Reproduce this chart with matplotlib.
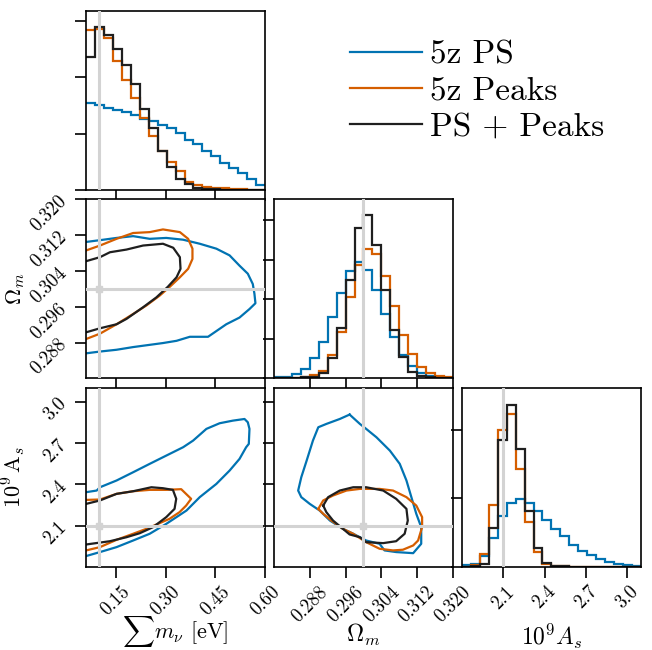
import numpy as np
import matplotlib
matplotlib.use('Agg')
import matplotlib.pyplot as plt

plt.rcParams['font.family'] = 'serif'
plt.rcParams['font.serif'] = ['cmr10', 'DejaVu Serif']
plt.rcParams['mathtext.fontset'] = 'cm'
plt.rcParams['axes.unicode_minus'] = False
plt.rcParams['axes.linewidth'] = 1.2

# 색상과 라벨
colors = ['#0173b2', '#d55e00', '#1f1f1f']
names = ['5z PS', '5z Peaks', 'PS + Peaks']
truth_color = '#d3d3d3'

# 참값 (fiducial)
truth_mnu = 0.10
truth_om = 0.30
truth_as = 2.1

# 축 범위와 눈금
lim_mnu = (0.06, 0.60)
lim_om = (0.280, 0.320)
lim_as = (1.80, 3.10)
ticks_mnu = [0.15, 0.30, 0.45, 0.60]
ticks_om = [0.288, 0.296, 0.304, 0.312, 0.320]
ticks_as = [2.1, 2.4, 2.7, 3.0]
ticklabels_mnu = ['0.15', '0.30', '0.45', '0.60']
ticklabels_om = ['0.288', '0.296', '0.304', '0.312', '0.320']
ticklabels_as = ['2.1', '2.4', '2.7', '3.0']

# 1D 히스토그램 (20 bins)
edges_mnu = np.linspace(0.06, 0.60, 21)
hist_mnu_ps = [1.544, 1.509, 1.456, 1.426, 1.379, 1.337, 1.266, 1.219, 1.160, 1.101,
               1.012, 0.893, 0.817, 0.686, 0.598, 0.479, 0.391, 0.302, 0.201, 0.095]
hist_mnu_pk = [2.846, 2.858, 2.698, 2.296, 1.959, 1.627, 1.278, 0.953, 0.698, 0.497,
               0.343, 0.136, 0.095, 0.059, 0.041, 0.030, 0.024, 0.010, 0.005, 0.0]
hist_mnu_co = [2.355, 2.905, 2.763, 2.509, 2.225, 1.882, 1.444, 1.095, 0.698, 0.402,
               0.201, 0.107, 0.036, 0.018, 0.010, 0.005, 0.005, 0.0, 0.0, 0.0]

edges_om = np.linspace(0.280, 0.320, 21)
hist_om_ps = [0.025, 0.040, 0.110, 0.237, 0.516, 0.930, 1.548, 2.165, 2.715, 2.943,
              2.748, 2.224, 1.615, 1.040, 0.600, 0.304, 0.135, 0.051, 0.017, 0.008]
hist_om_pk = [0.0, 0.008, 0.017, 0.040, 0.085, 0.195, 0.592, 1.167, 2.055, 2.875,
              3.281, 3.154, 2.579, 1.818, 1.108, 0.617, 0.296, 0.127, 0.059, 0.025]
hist_om_co = [0.0, 0.008, 0.017, 0.025, 0.042, 0.127, 0.507, 1.285, 2.478, 3.789,
              4.127, 3.357, 2.224, 1.235, 0.533, 0.169, 0.068, 0.025, 0.008, 0.0]

edges_as = np.linspace(1.80, 3.10, 21)
hist_as_ps = [0.024, 0.040, 0.155, 0.422, 0.738, 0.932, 0.995, 0.932, 0.811, 0.689,
              0.558, 0.447, 0.325, 0.228, 0.165, 0.107, 0.073, 0.044, 0.024, 0.015]
hist_as_pk = [0.0, 0.024, 0.189, 0.898, 2.000, 2.228, 1.432, 0.655, 0.214, 0.044,
              0.010, 0.005, 0.0, 0.0, 0.0, 0.0, 0.0, 0.0, 0.0, 0.0]
hist_as_co = [0.0, 0.010, 0.044, 0.568, 1.854, 2.364, 1.718, 0.811, 0.277, 0.058,
              0.015, 0.005, 0.0, 0.0, 0.0, 0.0, 0.0, 0.0, 0.0, 0.0]

# 2D 등고선 (mnu, Om)
c_mo_ps_x = [0.05, 0.06, 0.102, 0.152, 0.202, 0.252, 0.302, 0.353, 0.403, 0.453, 0.493, 0.523,
             0.548, 0.563, 0.568, 0.571, 0.553, 0.523, 0.483, 0.428, 0.373, 0.333, 0.292,
             0.252, 0.202, 0.152, 0.102, 0.06, 0.05]
c_mo_ps_y = [0.3106, 0.3105, 0.3109, 0.3114, 0.3118, 0.3112, 0.3114, 0.3110, 0.3101, 0.3090,
             0.3075, 0.3052, 0.3034, 0.3011, 0.2989, 0.2968, 0.2955, 0.2936, 0.2921, 0.2893,
             0.2893, 0.2884, 0.2879, 0.2875, 0.2870, 0.2864, 0.2860, 0.2856, 0.2855]
c_mo_pk_x = [0.05, 0.06, 0.102, 0.152, 0.202, 0.252, 0.292, 0.343, 0.368, 0.381, 0.381, 0.368,
             0.343, 0.313, 0.282, 0.242, 0.202, 0.152, 0.102, 0.06, 0.05]
c_mo_pk_y = [0.3080, 0.3086, 0.3097, 0.3112, 0.3125, 0.3127, 0.3133, 0.3127, 0.3112, 0.3090,
             0.3067, 0.3045, 0.3026, 0.3005, 0.2985, 0.2963, 0.2944, 0.2921, 0.2900, 0.2888,
             0.2884]
c_mo_co_x = [0.05, 0.06, 0.102, 0.132, 0.182, 0.232, 0.292, 0.323, 0.343, 0.345, 0.333, 0.307,
             0.272, 0.232, 0.182, 0.152, 0.102, 0.06, 0.05]
c_mo_co_y = [0.3058, 0.3062, 0.3071, 0.3082, 0.3088, 0.3097, 0.3101, 0.3092, 0.3071, 0.3045,
             0.3026, 0.3005, 0.2981, 0.2959, 0.2933, 0.2921, 0.2912, 0.2903, 0.2900]

# 2D 등고선 (mnu, As)
c_ma_ps_x = [0.05, 0.06, 0.092, 0.102, 0.152, 0.202, 0.252, 0.302, 0.353, 0.383, 0.423, 0.463,
             0.503, 0.538, 0.548, 0.553, 0.551, 0.543, 0.523, 0.493, 0.453, 0.403, 0.363,
             0.302, 0.252, 0.202, 0.152, 0.102, 0.06, 0.05]
c_ma_ps_y = [2.340, 2.342, 2.354, 2.378, 2.427, 2.487, 2.548, 2.608, 2.669, 2.717, 2.802, 2.843,
             2.862, 2.874, 2.850, 2.802, 2.693, 2.669, 2.584, 2.499, 2.402, 2.306, 2.209,
             2.112, 2.040, 1.991, 1.943, 1.907, 1.878, 1.872]
c_ma_pk_x = [0.05, 0.06, 0.102, 0.152, 0.202, 0.252, 0.302, 0.347, 0.377, 0.362, 0.342, 0.312,
             0.282, 0.242, 0.202, 0.152, 0.102, 0.06, 0.05]
c_ma_pk_y = [2.285, 2.286, 2.289, 2.330, 2.349, 2.359, 2.359, 2.364, 2.294, 2.245, 2.197, 2.149,
             2.117, 2.076, 2.040, 1.996, 1.943, 1.919, 1.915]
c_ma_co_x = [0.05, 0.06, 0.102, 0.152, 0.202, 0.257, 0.292, 0.322, 0.332, 0.327, 0.302, 0.262,
             0.222, 0.182, 0.132, 0.06, 0.05]
c_ma_co_y = [2.255, 2.257, 2.282, 2.330, 2.349, 2.378, 2.371, 2.359, 2.294, 2.221, 2.161, 2.088,
             2.044, 2.015, 1.986, 1.962, 1.960]

# 2D 등고선 (Om, As)
c_oa_ps_x = [0.2969, 0.2947, 0.2917, 0.2899, 0.2887, 0.2873, 0.2861, 0.2854, 0.2861, 0.2880,
             0.2902, 0.2925, 0.2954, 0.2977, 0.3006, 0.3036, 0.3047, 0.3073, 0.3111, 0.3129,
             0.3129, 0.3118, 0.3107, 0.3096, 0.3081, 0.3059, 0.3029, 0.3006, 0.2992, 0.2969]
c_oa_ps_y = [2.906, 2.874, 2.838, 2.814, 2.717, 2.572, 2.451, 2.354, 2.306, 2.257,
             2.209, 2.136, 2.076, 2.040, 1.991, 1.967, 1.919, 1.907, 1.899, 1.967,
             2.088, 2.185, 2.306, 2.427, 2.548, 2.644, 2.741, 2.802, 2.838, 2.906]
c_oa_pk_x = [0.2899, 0.2910, 0.2932, 0.2962, 0.2992, 0.3036, 0.3066, 0.3096, 0.3118, 0.3131,
             0.3131, 0.3122, 0.3111, 0.3088, 0.3066, 0.3036, 0.3006, 0.2977, 0.2954, 0.2928,
             0.2910, 0.2899]
c_oa_pk_y = [2.221, 2.282, 2.318, 2.354, 2.366, 2.366, 2.354, 2.306, 2.245, 2.161,
             2.088, 1.991, 1.955, 1.924, 1.919, 1.931, 1.979, 2.040, 2.076, 2.136,
             2.185, 2.221]
c_oa_co_x = [0.2910, 0.2921, 0.2947, 0.2977, 0.3006, 0.3044, 0.3073, 0.3096, 0.3099, 0.3092,
             0.3073, 0.3044, 0.3006, 0.2992, 0.2969, 0.2954, 0.2932, 0.2917, 0.2910]
c_oa_co_y = [2.245, 2.306, 2.354, 2.378, 2.378, 2.354, 2.294, 2.221, 2.136, 2.040,
             1.986, 1.972, 1.979, 2.015, 2.035, 2.076, 2.136, 2.197, 2.245]

fig, axes = plt.subplots(3, 3, figsize=(6.52, 6.50), dpi=100)
fig.subplots_adjust(left=0.132, right=0.983, bottom=0.128, top=0.983, wspace=0.05, hspace=0.053)

lims = [lim_mnu, lim_om, lim_as]
ticks = [ticks_mnu, ticks_om, ticks_as]
ticklabels = [ticklabels_mnu, ticklabels_om, ticklabels_as]
truths = [truth_mnu, truth_om, truth_as]
labels_x = [r'$\sum m_\nu$ [eV]', r'$\Omega_m$', r'$10^9 A_s$']
labels_y = [None, r'$\Omega_m$', r'$10^9\,\mathrm{A}_s$']
xlabel_y = [-0.265, -0.31, -0.31]
xlabel_size = [16, 17, 17]

hists = [
    (edges_mnu, [hist_mnu_ps, hist_mnu_pk, hist_mnu_co], 3.18, [0, 1, 2, 3]),
    (edges_om, [hist_om_ps, hist_om_pk, hist_om_co], 4.52, [0, 1, 2, 3, 4]),
    (edges_as, [hist_as_ps, hist_as_pk, hist_as_co], 2.61, [0, 1, 2]),
]
contours = {
    (1, 0): [(c_mo_ps_x, c_mo_ps_y), (c_mo_pk_x, c_mo_pk_y), (c_mo_co_x, c_mo_co_y)],
    (2, 0): [(c_ma_ps_x, c_ma_ps_y), (c_ma_pk_x, c_ma_pk_y), (c_ma_co_x, c_ma_co_y)],
    (2, 1): [(c_oa_ps_x, c_oa_ps_y), (c_oa_pk_x, c_oa_pk_y), (c_oa_co_x, c_oa_co_y)],
}

for i in range(3):
    for j in range(3):
        ax = axes[i, j]
        if j > i:
            ax.axis('off')
            continue
        ax.tick_params(direction='out', length=8, width=1.2, labelsize=13.5)
        ax.set_xlim(lims[j])
        ax.set_xticks(ticks[j])
        if i == 2:
            ax.set_xticklabels(ticklabels[j], rotation=45)
            ax.set_xlabel(labels_x[j], fontsize=xlabel_size[j])
            ax.xaxis.set_label_coords(0.5, xlabel_y[j])
        else:
            ax.set_xticklabels([])
        if i == j:
            edges, hs, ymax, yt = hists[i]
            for h, c in zip(hs, colors):
                ax.stairs(h, edges, color=c, lw=1.6, baseline=None)
            ax.set_ylim(0, ymax)
            ax.set_yticks(yt)
            ax.set_yticklabels([])
            ax.axvline(truths[j], color=truth_color, lw=2.2, zorder=5)
        else:
            for (cx, cy), c in zip(contours[(i, j)], colors):
                ax.plot(cx, cy, color=c, lw=1.6)
            ax.set_ylim(lims[i])
            ax.set_yticks(ticks[i])
            if j == 0:
                ax.set_yticklabels(ticklabels[i], rotation=45)
                ax.set_ylabel(labels_y[i], fontsize=16)
                ax.yaxis.set_label_coords(-0.33, 0.5)
            else:
                ax.set_yticklabels([])
            ax.axvline(truths[j], color=truth_color, lw=2.2, zorder=5)
            ax.axhline(truths[i], color=truth_color, lw=2.2, zorder=5)
            ax.plot(truths[j], truths[i], 's', color=truth_color, ms=4, zorder=6)

handles = [plt.Line2D([], [], color=c, lw=1.6) for c in colors]
fig.legend(handles, names, loc='upper left', bbox_to_anchor=(350 / 652, 1 - 40 / 650),
           frameon=False, fontsize=24, handlelength=2.15, handletextpad=0.25,
           labelspacing=0.2, borderpad=0, borderaxespad=0)

fig.savefig('out.png', dpi=100)
